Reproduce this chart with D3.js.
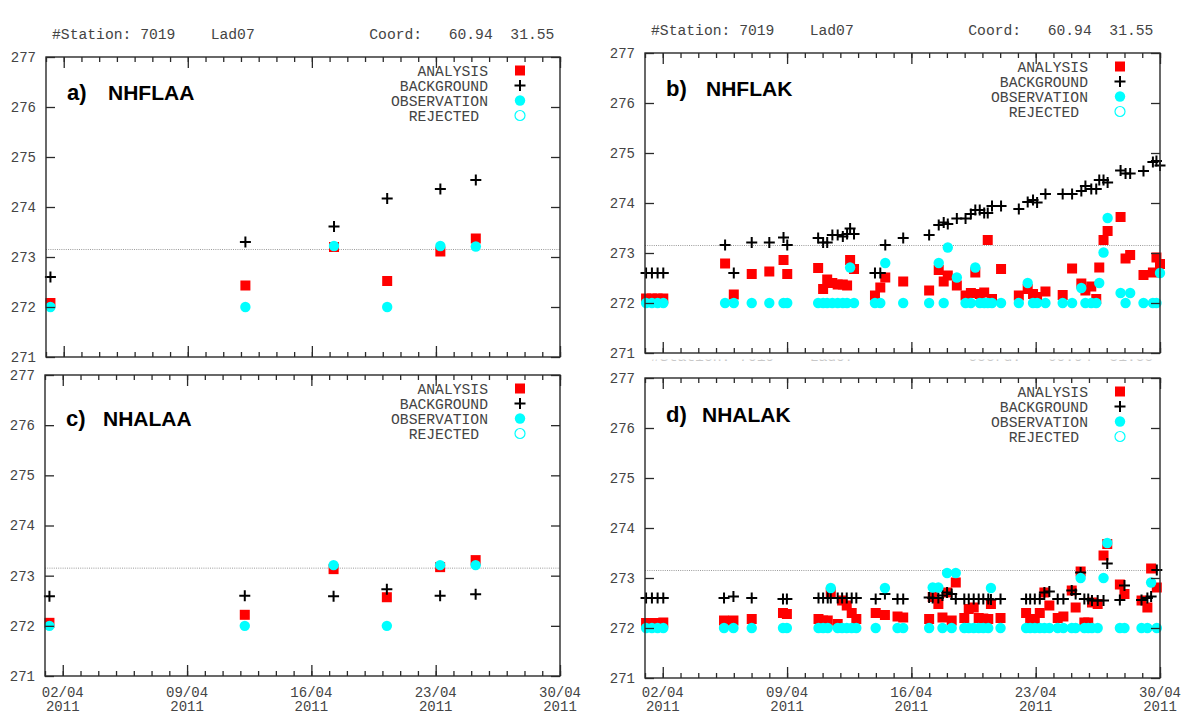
<!DOCTYPE html>
<html lang="en">
<head>
<meta charset="utf-8">
<script src="https://d3js.org/d3.v7.min.js"></script>
<title>Station 7019 Lad07</title>
<style>
  body { margin: 0; background: #fff; }
  svg { display: block; }
  .mono { font-family: "Liberation Mono", "DejaVu Sans Mono", monospace; fill: #444; }
  .ttl { font-family: "Liberation Sans", Arial, sans-serif; font-weight: bold; fill: #000; }
</style>
</head>
<body>
<svg id="chart" width="1187" height="716"></svg>
<script>
// ---- data (time = decimal day of April 2011, values in K) ----
const headerText = "#Station: 7019    Lad07" + " ".repeat(13) + "Coord:   60.94  31.55";
const legendLabels = ["ANALYSIS", "BACKGROUND", "OBSERVATION", "REJECTED "];
const majorDays = [2, 9, 16, 23, 30];
const yTicks = [271, 272, 273, 274, 275, 276, 277];
const freezeLine = 273.15;

// a) NHFLAA
const timeA = [1.25, 12.25, 17.25, 20.25, 23.25, 25.25];
const anaA  = [272.08, 272.43, 273.20, 272.52, 273.11, 273.37];
const bkgA  = [272.60, 273.30, 273.61, 274.17, 274.36, 274.54];
const obsA  = [272.00, 272.00, 273.22, 272.00, 273.22, 273.21];

// b) NHFLAK
const timeB = [1.06, 1.39, 1.71, 2.03, 5.51, 6.0, 7.01, 8.0, 8.8, 9.01,
  10.75, 11.03, 11.26, 11.55, 11.85, 12.14, 12.38, 12.55, 12.77,
  13.95, 14.25, 14.53, 15.54, 17.0, 17.54, 17.82, 18.05, 18.56,
  19.05, 19.35, 19.6, 19.85, 20.1, 20.3, 20.54, 21.05,
  22.05, 22.55, 22.85, 23.08, 23.55, 24.52, 25.05, 25.57, 25.8, 26.13, 26.41, 26.58, 26.82, 27.05,
  27.78, 28.06, 28.32, 29.07, 29.6, 29.8, 30.0];
const bkgB = [272.6, 272.6, 272.6, 272.6, 273.16, 272.6, 273.21, 273.21, 273.31, 273.16,
  273.3, 273.21, 273.21, 273.36, 273.36, 273.33, 273.38, 273.49, 273.38,
  272.6, 272.6, 273.16, 273.3, 273.36, 273.56, 273.61, 273.58, 273.69,
  273.69, 273.78, 273.86, 273.86, 273.8, 273.8, 273.94, 273.94,
  273.88, 274.02, 274.06, 274.01, 274.18, 274.18, 274.18, 274.24, 274.34, 274.28, 274.28, 274.46, 274.46, 274.41,
  274.65, 274.59, 274.59, 274.64, 274.82, 274.84, 274.75];
const anaB = [272.09, 272.09, 272.09, 272.09, 272.79, 272.17, 272.58, 272.63, 272.86, 272.58,
  272.7, 272.28, 272.47, 272.4, 272.37, 272.37, 272.35, 272.86, 272.68,
  272.15, 272.31, 272.51, 272.43, 272.25, 272.66, 272.43, 272.55, 272.35,
  272.15, 272.2, 272.61, 272.18, 272.21, 273.26, 272.08, 272.68,
  272.15, 272.28, 272.18, 272.12, 272.23, 272.16, 272.69, 272.39, 272.25, 272.33, 272.08, 272.71, 273.26, 273.44,
  273.72, 272.89, 272.96, 272.56, 272.61, 272.91, 272.78];
const obsB = [272, 272, 272, 272, 272, 272, 272, 272, 272, 272,
  272, 272, 272, 272, 272, 272, 272, 272.71, 272,
  272, 272, 272.8, 272, 272, 272.8, 272, 273.11, 272.51,
  272, 272, 272.71, 272, 272, 272, 272, 272,
  272, 272.4, 272, 272, 272, 272, 272, 272.3, 272, 272, 272, 272.4, 273.01, 273.7,
  272.2, 272, 272.2, 272, 272, 272, 272.6];

// c) NHALAA
const timeC = [1.25, 12.25, 17.25, 20.25, 23.25, 25.25];
const anaC  = [272.06, 272.22, 273.13, 272.57, 273.17, 273.31];
const bkgC  = [272.59, 272.60, 272.59, 272.73, 272.60, 272.63];
const obsC  = [272.00, 272.00, 273.21, 272.00, 273.21, 273.21];

// d) NHALAK
const timeD = [1.06, 1.39, 1.71, 2.03, 5.45, 5.98, 7.01, 8.77, 8.99,
  10.77, 11.03, 11.29, 11.46, 11.85, 12.1, 12.36, 12.64, 12.9,
  13.99, 14.51, 15.22, 15.54, 17.0, 17.2, 17.52, 17.75, 18.01, 18.27, 18.5,
  18.98, 19.23, 19.51, 19.79, 20.05, 20.33, 20.48, 21.02,
  22.46, 22.69, 22.95, 23.23, 23.49, 23.77, 24.24, 24.56,
  25.03, 25.25, 25.53, 25.74, 25.96, 26.17, 26.49, 26.82, 27.03,
  27.74, 28.0, 28.96, 29.29, 29.5, 29.82];
const bkgD = [272.6, 272.6, 272.6, 272.6, 272.6, 272.63, 272.6, 272.58, 272.58,
  272.6, 272.6, 272.6, 272.6, 272.6, 272.6, 272.6, 272.6, 272.6,
  272.58, 272.68, 272.58, 272.58, 272.61, 272.6, 272.6, 272.65, 272.71, 272.68, 272.58,
  272.58, 272.58, 272.58, 272.58, 272.58, 272.58, 272.57, 272.58,
  272.58, 272.58, 272.58, 272.58, 272.71, 272.73, 272.58, 272.58,
  272.75, 272.68, 273.11, 272.58, 272.58, 272.55, 272.55, 272.55, 273.29,
  272.56, 272.85, 272.56, 272.6, 272.63, 273.16];
const anaD = [272.1, 272.1, 272.1, 272.11, 272.15, 272.15, 272.18, 272.3, 272.28,
  272.18, 272.15, 272.15, 272.71, 272.08, 272.55, 272.45, 272.3, 272.18,
  272.3, 272.26, 272.23, 272.21, 272.18, 272.62, 272.48, 272.21, 272.71, 272.15, 272.91,
  272.2, 272.38, 272.41, 272.2, 272.19, 272.18, 272.48, 272.2,
  272.3, 272.18, 272.18, 272.3, 272.71, 272.45, 272.2, 272.23,
  272.75, 272.41, 273.13, 272.11, 272.11, 272.51, 272.48, 273.45, 273.68,
  272.87, 272.68, 272.55, 272.41, 273.19, 272.81];
const obsD = [272, 272, 272, 272, 272, 272, 272, 272, 272,
  272, 272, 272, 272.8, 272, 272, 272, 272, 272,
  272, 272.8, 272, 272, 272, 272.81, 272.81, 272, 273.1, 272, 273.1,
  272, 272, 272, 272, 272, 272, 272.8, 272,
  272, 272, 272, 272, 272, 272, 272, 272,
  272, 272, 273.0, 272, 272, 272, 272, 273.0, 273.7,
  272, 272, 272, 272, 272.91, 272];

// ---- layout ----
const panels = [
  { tag: "a)", name: "NHFLAA", box: [46, 57, 560, 357], ttlY: 100, nameDx: 62, head: "show",
    time: timeA, ana: anaA, bkg: bkgA, obs: obsA, xLabels: false },
  { tag: "b)", name: "NHFLAK", box: [645, 53, 1160, 353], ttlY: 96, nameDx: 61, head: "show",
    time: timeB, ana: anaB, bkg: bkgB, obs: obsB, xLabels: false },
  { tag: "c)", name: "NHALAA", box: [45, 375, 560, 676], ttlY: 426, nameDx: 58, head: "none",
    time: timeC, ana: anaC, bkg: bkgC, obs: obsC, xLabels: true },
  { tag: "d)", name: "NHALAK", box: [645, 378, 1160, 678], ttlY: 422, nameDx: 57, head: "clip",
    time: timeD, ana: anaD, bkg: bkgD, obs: obsD, xLabels: true }
];

const svg = d3.select("#chart");
const t0 = new Date(Date.UTC(2011, 3, 1));
const t1 = new Date(Date.UTC(2011, 3, 30));
const dayDate = d => new Date(t0.getTime() + (d - 1) * 864e5);
const minorDates = d3.utcDay.range(t0, d3.utcDay.offset(t1, 1));
const majorDates = majorDays.map(dayDate);
const fmtDay = d3.utcFormat("%d/%m");
const fmtYear = d3.utcFormat("%Y");

const RED = "#ff0000", CYAN = "#00ffff", FRAME = "#2a2a2a";
const plusPath = "M-5.5,0H5.5M0,-5.5V5.5";

panels.forEach(drawPanel);

function drawPanel(p) {
  const [x0, y0, x1, y1] = p.box;
  const x = d3.scaleUtc().domain([t0, t1]).range([x0, x1]);
  const y = d3.scaleLinear().domain([271, 277]).range([y1, y0]);
  const g = svg.append("g");

  // station header
  if (p.head === "show") {
    g.append("text").attr("class", "mono")
      .attr("x", x0 + 6).attr("y", y0 - 18)
      .style("white-space", "pre").style("font-size", "14.7px")
      .text(headerText);
  } else if (p.head === "clip") {
    // only the lowest pixels of this header peek out under the panel above
    const strip = g.append("svg").attr("x", 0).attr("y", 359.5).attr("width", 1187).attr("height", 2.5);
    strip.append("text").attr("class", "mono")
      .attr("x", x0 + 6).attr("y", 1.3)
      .style("white-space", "pre").style("font-size", "14.7px").style("fill", "#c8c8c8")
      .text(headerText);
  }

  // 0 C reference
  g.append("line")
    .attr("x1", x0).attr("x2", x1)
    .attr("y1", y(freezeLine)).attr("y2", y(freezeLine))
    .attr("stroke", "#9a9a9a").attr("stroke-width", 1)
    .attr("stroke-dasharray", "1,1.2");

  const rows = p.time.map((t, i) => ({ t: dayDate(t), ana: p.ana[i], bkg: p.bkg[i], obs: p.obs[i] }));

  g.append("g").selectAll("rect").data(rows).join("rect")
    .attr("x", d => x(d.t) - 5).attr("y", d => y(d.ana) - 5)
    .attr("width", 10).attr("height", 10).attr("fill", RED);

  g.append("g").selectAll("path").data(rows).join("path")
    .attr("transform", d => `translate(${x(d.t)},${y(d.bkg)})`)
    .attr("d", plusPath).attr("stroke", "#000").attr("stroke-width", 2).attr("fill", "none");

  g.append("g").selectAll("circle").data(rows).join("circle")
    .attr("cx", d => x(d.t)).attr("cy", d => y(d.obs))
    .attr("r", 5.2).attr("fill", CYAN);

  // ticks (all inward)
  const tickStyle = a => {
    a.select(".domain").remove();
    a.selectAll("line").attr("stroke", FRAME).attr("stroke-width", 1.3);
  };
  g.append("g").attr("transform", `translate(0,${y1})`)
    .call(d3.axisBottom(x).tickValues(minorDates).tickSize(-5).tickFormat(""))
    .call(tickStyle);
  g.append("g").attr("transform", `translate(0,${y1})`)
    .call(d3.axisBottom(x).tickValues(majorDates).tickSize(-11).tickFormat(""))
    .call(tickStyle);
  g.append("g").attr("transform", `translate(0,${y0})`)
    .call(d3.axisTop(x).tickValues(minorDates).tickSize(-5).tickFormat(""))
    .call(tickStyle);
  g.append("g").attr("transform", `translate(0,${y0})`)
    .call(d3.axisTop(x).tickValues(majorDates).tickSize(-11).tickFormat(""))
    .call(tickStyle);

  const yl = g.append("g").attr("transform", `translate(${x0},0)`)
    .call(d3.axisLeft(y).tickValues(yTicks).tickSize(-9).tickPadding(10).tickFormat(d3.format("d")))
    .call(tickStyle);
  yl.selectAll("text").attr("class", "mono").attr("fill", null)
    .style("font-size", "14px").style("font-family", null);
  g.append("g").attr("transform", `translate(${x1},0)`)
    .call(d3.axisRight(y).tickValues(yTicks).tickSize(-9).tickFormat(""))
    .call(tickStyle);

  if (p.xLabels) {
    const lab = g.append("g").selectAll("text").data(majorDates).join("text")
      .attr("class", "mono").attr("text-anchor", "middle").style("font-size", "14px");
    lab.append("tspan").attr("x", d => x(d)).attr("y", 697).text(d => fmtDay(d));
    lab.append("tspan").attr("x", d => x(d)).attr("y", 711).text(d => fmtYear(d));
  }

  // frame
  g.append("rect").attr("x", x0).attr("y", y0)
    .attr("width", x1 - x0).attr("height", y1 - y0)
    .attr("fill", "none").attr("stroke", FRAME).attr("stroke-width", 1.4);

  // title
  g.append("text").attr("class", "ttl").attr("x", x0 + 21).attr("y", p.ttlY)
    .style("font-size", "22px").text(p.tag);
  g.append("text").attr("class", "ttl").attr("x", x0 + p.nameDx).attr("y", p.ttlY)
    .style("font-size", "21px").text(p.name);

  // legend
  const leg = g.append("g");
  legendLabels.forEach((lbl, i) => {
    const ly = y0 + 13.5 + 15 * i;
    leg.append("text").attr("class", "mono").attr("text-anchor", "end")
      .attr("x", x1 - 72).attr("y", ly).attr("dy", "0.35em")
      .style("white-space", "pre").style("font-size", "14.7px").text(lbl);
    const sx = x1 - 40;
    if (i === 0) leg.append("rect").attr("x", sx - 5).attr("y", ly - 5).attr("width", 10).attr("height", 10).attr("fill", RED);
    if (i === 1) leg.append("path").attr("transform", `translate(${sx},${ly})`).attr("d", plusPath)
      .attr("stroke", "#000").attr("stroke-width", 2);
    if (i === 2) leg.append("circle").attr("cx", sx).attr("cy", ly).attr("r", 5.2).attr("fill", CYAN);
    if (i === 3) leg.append("circle").attr("cx", sx).attr("cy", ly).attr("r", 5)
      .attr("fill", "none").attr("stroke", CYAN).attr("stroke-width", 1.2);
  });
}
</script>
</body>
</html>
